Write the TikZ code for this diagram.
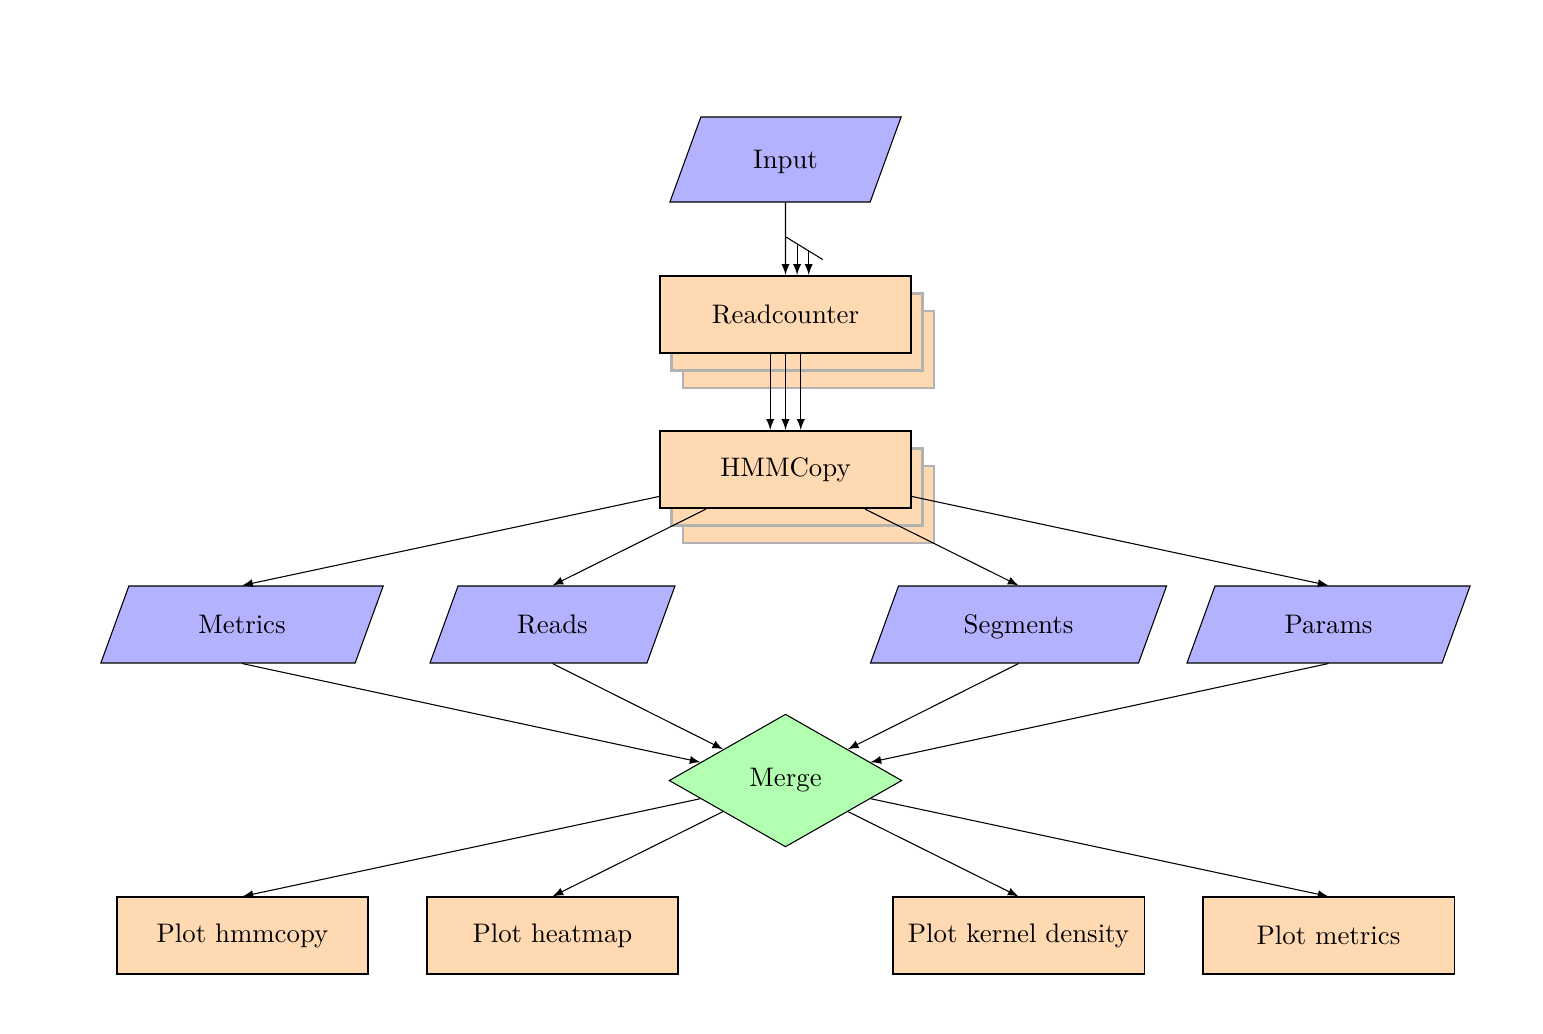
\documentclass[tikz,border=0pt]{standalone}
\usetikzlibrary{shapes.geometric,shadows,calc}
\tikzset{
  io/.style={trapezium, trapezium left angle=70, trapezium right angle=110, trapezium stretches body, draw, fill=blue!30, text height=1.6ex, text depth=0pt, inner ysep=10.9pt},
  process/.style={rectangle, draw, fill=orange!30, minimum width=3.29cm, minimum height=1.01cm},
  stacked/.style={process, thick,
    copy shadow={shadow xshift=0.302cm, shadow yshift=-0.458cm, fill=orange!30, draw=black!30, thick},
    copy shadow={shadow xshift=0.151cm, shadow yshift=-0.229cm, fill=orange!30, draw=black!30, thick}},
  decision/.style={diamond, draw, fill=green!30, minimum width=3.05cm, minimum height=1.74cm, inner sep=0pt}
}
\begin{document}
\begin{tikzpicture}
        \useasboundingbox (0, 0) rectangle (20.223, 13.539);
        % Nodes:
        \draw node[io, minimum width=3.03cm, inner ysep=12.4pt] (N1) at (10.295, 11.448) {Input};
        \draw node[stacked] (N2) at (10.295, 9.417) {Readcounter};
        \draw node[stacked] (N3) at (10.295, 7.385) {HMMCopy};
        \draw node[io, minimum width=3.70cm] (N4) at (3.172, 5.354) {Metrics};
        \draw node[io, minimum width=3.21cm] (N5) at (7.241, 5.354) {Reads};
        \draw node[io, minimum width=3.88cm] (N6) at (13.349, 5.354) {Segments};
        \draw node[io, minimum width=3.71cm] (N7) at (17.412, 5.354) {Params};
        \draw node[decision] (N8) at (10.295, 3.309) {Merge};
        \draw node[process] (N9) at (3.178, 1.278) {Plot hmmcopy};
        \draw node[process] (N10) at (7.241, 1.278) {Plot heatmap};
        \draw node[process] (N11) at (13.349, 1.278) {Plot kernel density};
        \draw node[process] (N12) at (17.412, 1.278) {Plot metrics};
        % Input to Readcounter:
        \coordinate (C1) at ([yshift=5mm]N2.north);
        \coordinate (C2) at ([xshift=4.9mm, yshift=2mm]N2.north);
        \coordinate (C3) at ($(C1)!0.31!(C2)$);
        \coordinate (C4) at ($(C1)!0.62!(C2)$);
        \draw[-latex] (N1) -- (N2);
        \draw (C1) -- (C2);
        \draw[-latex] (C3) -- (C3 |- N2.north);
        \draw[-latex] (C4) -- (C4 |- N2.north);
        % Readcounter to HMMCopy:
        \draw[-latex] ([xshift=-2mm]N2.south) -- ([xshift=-2mm]N3.north);
        \draw[-latex] (N2) -- (N3);
        \draw[-latex] ([xshift=2mm]N2.south) -- ([xshift=2mm]N3.north);
        % HMMCopy to outputs:
        \draw[-latex] (N3) -- (N4.north);
        \draw[-latex] (N3) -- (N5.north);
        \draw[-latex] (N3) -- (N6.north);
        \draw[-latex] (N3) -- (N7.north);
        % Outputs to Merge:
        \draw[-latex] (N4.south) -- (N8);
        \draw[-latex] (N5.south) -- (N8);
        \draw[-latex] (N6.south) -- (N8);
        \draw[-latex] (N7.south) -- (N8);
        % Merge to plots:
        \draw[-latex] (N8) -- (N9.north);
        \draw[-latex] (N8) -- (N10.north);
        \draw[-latex] (N8) -- (N11.north);
        \draw[-latex] (N8) -- (N12.north);
\end{tikzpicture}
\end{document}
